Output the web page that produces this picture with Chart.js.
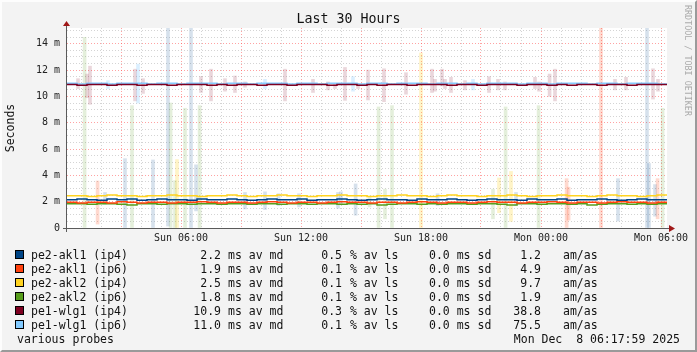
<!DOCTYPE html>
<html lang="en">
<head>
<meta charset="UTF-8">
<title>Last 30 Hours</title>
<script src="https://cdn.jsdelivr.net/npm/chart.js"></script>
<style>
  body { margin: 0; background: #f3f3f3; font-family: 'DejaVu Sans Mono', monospace; color: #111; }
  .frame { position: absolute; left: 0; top: 0; width: 697px; height: 352px; box-sizing: border-box;
           border: 2px solid; border-color: #fdfdfd #9a9a9a #9a9a9a #fdfdfd; background: #f3f3f3; }
  #chart { position: absolute; left: 0; top: 0; }
  .title { position: absolute; left: 0; top: 11px; width: 697px; text-align: center; font-size: 13.3px; line-height: 16px; }
  .stamp { position: absolute; left: 683px; top: 5px; writing-mode: vertical-rl; font-size: 8.4px; color: #aaa; white-space: pre; }
  .row { position: absolute; left: 0; width: 697px; height: 14px; font-size: 11.5px; line-height: 14px; white-space: pre; }
  .row span { position: absolute; top: 0; }
  .row .sw { top: 2px; width: 9px; height: 9px; box-sizing: border-box; border: 1px solid #000; }
</style>
</head>
<body>
<div class="frame"></div>
<canvas id="chart" width="697" height="352"></canvas>
<div class="title">Last 30 Hours</div>
<div class="stamp">RRDTOOL / TOBI OETIKER</div>
<div id="legend"></div>

<script>
// hours since Sun 00:00 (graph runs Sun 00:18 .. Mon 06:18)
var times = [0.3,0.8,1.3,1.8,2.3,2.8,3.3,3.8,4.3,4.8,
             5.3,5.8,6.3,6.8,7.3,7.8,8.3,8.8,9.3,9.8,
             10.3,10.8,11.3,11.8,12.3,12.8,13.3,13.8,14.3,14.8,
             15.3,15.8,16.3,16.8,17.3,17.8,18.3,18.8,19.3,19.8,
             20.3,20.8,21.3,21.8,22.3,22.8,23.3,23.8,24.3,24.8,
             25.3,25.8,26.3,26.8,27.3,27.8,28.3,28.8,29.3,29.8,30.3];

var tickHours = [6, 12, 18, 24, 30];
var tickLabels = ['Sun 06:00', 'Sun 12:00', 'Sun 18:00', 'Mon 00:00', 'Mon 06:00'];

var names = ['pe2-akl1 (ip4)', 'pe2-akl1 (ip6)', 'pe2-akl2 (ip4)', 'pe2-akl2 (ip6)', 'pe1-wlg1 (ip4)', 'pe1-wlg1 (ip6)'];
var colors = ['#004586', '#ff420e', '#ffd320', '#579d1c', '#7e0021', '#83caff'];
var smokeColors = ['rgba(0,69,134,0.16)', 'rgba(255,66,14,0.2)', 'rgba(255,211,32,0.25)',
                   'rgba(87,157,28,0.16)', 'rgba(126,0,33,0.16)', 'rgba(131,202,255,0.3)'];
var medians = [2.2, 1.9, 2.5, 1.8, 10.9, 11.0];
var losses = [0.5, 0.1, 0.1, 0.1, 0.3, 0.1];
var sds = [0.0, 0.0, 0.0, 0.0, 0.0, 0.0];
var amas = [1.2, 4.9, 9.7, 1.9, 38.8, 75.5];

// median rtt in ms
var akl1v4 = [2.15,2.2,2.15,2.1,2.2,2.15,2.2,2.1,2.15,2.2,
              2.15,2.15,2.1,2.2,2.15,2.15,2.2,2.15,2.1,2.15,
              2.2,2.15,2.15,2.2,2.1,2.15,2.15,2.2,2.15,2.1,
              2.15,2.2,2.15,2.15,2.1,2.2,2.15,2.15,2.2,2.15,
              2.1,2.15,2.2,2.15,2.15,2.1,2.2,2.15,2.15,2.2,
              2.1,2.15,2.15,2.2,2.15,2.1,2.15,2.2,2.15,2.15,2.2];
var akl1v6 = [1.95,1.9,1.95,1.95,1.9,2.0,1.95,1.9,1.95,1.95,
              1.9,1.95,1.95,2.0,1.95,1.9,1.95,1.95,1.9,1.95,
              2.0,1.95,1.9,1.95,1.95,1.9,1.95,2.0,1.95,1.95,
              1.9,1.95,1.95,1.9,1.95,2.0,1.95,1.9,1.95,1.95,
              1.9,1.95,2.0,1.95,1.95,1.9,1.95,1.95,2.0,1.95,
              1.9,1.95,1.95,1.9,1.95,2.0,1.95,1.95,1.9,1.95,1.95];
var akl2v4 = [2.45,2.45,2.4,2.45,2.5,2.45,2.45,2.4,2.45,2.45,
              2.5,2.45,2.45,2.4,2.45,2.45,2.5,2.45,2.4,2.45,
              2.45,2.5,2.45,2.45,2.4,2.45,2.45,2.5,2.45,2.45,
              2.4,2.45,2.45,2.5,2.45,2.45,2.4,2.45,2.5,2.45,
              2.45,2.4,2.45,2.45,2.5,2.45,2.4,2.45,2.45,2.5,
              2.45,2.45,2.4,2.45,2.5,2.45,2.45,2.4,2.45,2.5,2.45];
var akl2v6 = [1.85,1.85,1.8,1.85,1.85,1.8,1.75,1.85,1.85,1.8,
              1.85,1.85,1.8,1.85,1.85,1.8,1.85,1.85,1.8,1.85,
              1.85,1.8,1.85,1.85,1.8,1.85,1.85,1.8,1.85,1.8,
              1.85,1.75,1.8,1.85,1.85,1.8,1.85,1.8,1.85,1.85,
              1.8,1.85,1.85,1.8,1.75,1.85,1.85,1.8,1.85,1.85,
              1.8,1.85,1.75,1.8,1.85,1.85,1.8,1.85,1.8,1.85,1.85];
var wlg1v4 = [10.9,10.85,10.9,10.9,10.85,10.9,10.9,10.85,10.9,10.9,
              10.85,10.9,10.9,10.9,10.85,10.9,10.85,10.9,10.9,10.85,
              10.9,10.9,10.85,10.9,10.9,10.9,10.85,10.9,10.9,10.85,
              10.9,10.85,10.9,10.9,10.85,10.9,10.9,10.9,10.85,10.9,
              10.9,10.85,10.9,10.9,10.9,10.85,10.9,10.9,10.85,10.9,
              10.85,10.9,10.9,10.85,10.9,10.9,10.85,10.9,10.9,10.9,10.9];
var wlg1v6 = [11.0,10.95,11.0,11.0,10.95,11.0,11.0,11.0,10.95,11.0,
              11.0,10.95,11.0,11.0,11.0,10.95,11.0,11.0,10.95,11.0,
              11.0,11.0,10.95,11.0,11.0,10.95,11.0,11.0,11.0,10.95,
              11.0,11.0,10.95,11.0,11.0,11.0,10.95,11.0,11.0,10.95,
              11.0,10.95,11.0,11.0,11.0,10.95,11.0,11.0,10.95,11.0,
              11.0,11.0,10.95,11.0,11.0,10.95,11.0,11.0,11.0,10.95,11.0];

// smoke: [hour, low ms, high ms]
var smokeAkl1v4 = [[2.2,1.8,2.7],[3.2,0,5.27],[4.6,0,5.17],[5.35,0.15,15.2],[6.5,0,15.2],[6.75,1.3,4.8],
                   [9.2,1.45,2.7],[10.2,1.4,2.75],[10.88,1.7,2.6],[11.9,1.6,2.6],[13.85,1.5,2.7],[14.0,1.8,2.75],
                   [14.73,0.97,3.35],[18.83,1.7,2.6],[22.75,1.7,2.7],[27.85,0.53,3.75],[29.3,0,15.2],
                   [29.4,0,4.9],[29.7,0.9,3.3]];
var smokeAkl1v6 = [[1.83,0.3,3.57],[25.28,0,3.75],[25.38,0.6,3.1],[27.0,0,15.2],[29.83,0.7,3.75]];
var smokeAkl2v4 = [[5.8,0,5.2],[18.0,0,13.3],[21.9,1.16,3.8],[22.5,0.5,4.3]];
var smokeAkl2v6 = [[1.18,0,14.5],[3.55,0,9.3],[5.48,0,9.5],[5.7,0,3.6],[6.2,0,9.1],[6.93,0,9.3],
                   [15.43,1.6,2.4],[15.88,0,9.2],[16.2,0.7,2.95],[16.55,0,9.3],[21.6,0.7,2.95],
                   [22.23,0,9.2],[23.88,0,9.3],[30.08,0,9.1]];
var smokeWlg1v4 = [[0.85,10.6,11.35],[1.3,9.9,11.7],[1.45,9.4,12.3],[3.7,9.66,12.07],[4.1,10.23,11.35],
                   [7.0,10.3,11.5],[7.5,9.66,12.07],[8.2,10.4,11.35],[8.7,10.3,11.55],[9.2,10.7,11.1],
                   [11.2,9.66,12.07],[12.6,10.3,11.3],[13.35,10.5,11.1],[13.7,10.6,11.0],[14.2,9.7,12.2],
                   [14.85,10.6,11.0],[15.35,9.73,12.0],[16.15,9.6,12.1],[17.25,10.17,11.8],[18.55,10.3,12.07],
                   [18.7,10.4,11.3],[19.05,10.8,12.07],[19.2,10.6,11.3],[19.5,10.3,11.45],[20.2,10.5,11.2],
                   [21.4,10.3,11.5],[21.85,10.5,11.3],[22.2,10.5,11.1],[23.7,10.6,11.45],[23.9,10.4,11.1],
                   [24.43,10.0,11.7],[24.7,9.66,12.07],[27.7,10.5,11.3],[28.25,10.5,11.45],[29.6,9.8,12.1],
                   [29.85,10.4,11.3]];
var smokeWlg1v6 = [[2.35,10.6,11.2],[3.85,9.5,12.45],[10.2,10.6,11.3],[14.6,10.4,11.5],[20.6,10.5,11.3]];

var series = [akl1v4, akl1v6, akl2v4, akl2v6, wlg1v4, wlg1v6];
var smoke = [smokeAkl1v4, smokeAkl1v6, smokeAkl2v4, smokeAkl2v6, smokeWlg1v4, smokeWlg1v6];

var hourTicks = [];
for (var h = 1; h <= 30; h++) hourTicks.push(h);
var msTicks = [];
for (var m = 0; m <= 30; m++) msTicks.push(m / 2);

var datasets = [];
series.forEach(function (vals, i) {
  datasets.push({
    type: 'line',
    label: names[i],
    data: times.map(function (t, k) { return {x: t, y: vals[k]}; }),
    borderColor: colors[i],
    borderWidth: 1.5,
    pointRadius: 0,
    stepped: true,
    order: 0
  });
});
smoke.forEach(function (list, i) {
  datasets.push({
    type: 'bar',
    label: names[i] + ' smoke',
    data: list.map(function (s) { return {x: s[0], y: [s[1], s[2]]}; }),
    backgroundColor: smokeColors[i],
    borderWidth: 0,
    barThickness: 3,
    grouped: false,
    order: 1
  });
});

var frame = {
  id: 'frame',
  beforeDraw: function (chart) {
    var ctx = chart.ctx, a = chart.chartArea;
    ctx.save();
    ctx.fillStyle = '#fff';
    ctx.fillRect(a.left, a.top, a.right - a.left, a.bottom - a.top);
    ctx.restore();
  },
  afterDraw: function (chart) {
    var ctx = chart.ctx, a = chart.chartArea;
    var x0 = a.left - 0.5, y0 = a.bottom + 0.5;
    ctx.save();
    ctx.strokeStyle = '#5a5a5a';
    ctx.lineWidth = 1;
    ctx.beginPath();
    ctx.moveTo(x0, a.bottom + 4); ctx.lineTo(x0, a.top - 2);
    ctx.moveTo(a.left - 4, y0); ctx.lineTo(a.right + 2, y0);
    ctx.stroke();
    ctx.fillStyle = '#a01818';
    ctx.beginPath();
    ctx.moveTo(x0 - 3.5, a.top - 2); ctx.lineTo(x0 + 3.5, a.top - 2); ctx.lineTo(x0, a.top - 7);
    ctx.closePath(); ctx.fill();
    ctx.beginPath();
    ctx.moveTo(a.right + 2, y0 - 3.5); ctx.lineTo(a.right + 2, y0 + 3.5); ctx.lineTo(a.right + 8, y0);
    ctx.closePath(); ctx.fill();
    ctx.restore();
  }
};

Chart.defaults.font.family = "'DejaVu Sans Mono', monospace";
Chart.defaults.color = '#222';

new Chart(document.getElementById('chart'), {
  type: 'line',
  data: { datasets: datasets },
  options: {
    responsive: false,
    animation: false,
    events: [],
    layout: { padding: { top: 28, right: 30, bottom: 104, left: 0 } },
    plugins: { legend: { display: false }, tooltip: { enabled: false } },
    scales: {
      x: {
        type: 'linear',
        min: 0.3,
        max: 30.3,
        offset: false,
        afterBuildTicks: function (scale) { scale.ticks = hourTicks.map(function (v) { return {value: v}; }); },
        afterFit: function (scale) { scale.height = 20; },
        grid: {
          offset: false,
          drawTicks: false,
          lineWidth: 1,
          color: function (c) { return c.tick && c.tick.value % 3 === 0 ? 'rgba(255,70,70,0.5)' : 'rgba(160,160,160,0.45)'; }
        },
        border: { display: false, dash: [1, 2] },
        ticks: {
          autoSkip: false,
          maxRotation: 0,
          padding: 4,
          font: { size: 10 },
          callback: function (v) {
            var i = tickHours.indexOf(v);
            return i >= 0 ? tickLabels[i] : '';
          }
        }
      },
      y: {
        min: 0,
        max: 15.2,
        afterBuildTicks: function (scale) { scale.ticks = msTicks.map(function (v) { return {value: v}; }); },
        afterFit: function (scale) { scale.width = 67; },
        grid: {
          drawTicks: false,
          lineWidth: 1,
          color: function (c) { return c.tick && c.tick.value % 2 === 0 ? 'rgba(255,70,70,0.5)' : 'rgba(160,160,160,0.45)'; }
        },
        border: { display: false, dash: [1, 2] },
        ticks: {
          autoSkip: false,
          padding: 7,
          font: { size: 10 },
          callback: function (v) {
            if (v % 2 !== 0) return '';
            return v === 0 ? '0' : v + ' m';
          }
        },
        title: { display: true, text: 'Seconds', font: { size: 11.5 }, padding: { top: 4, bottom: 0 }, color: '#111' }
      }
    }
  },
  plugins: [frame]
});

// legend rows, laid out like the rrdtool GPRINT columns
var legend = document.getElementById('legend');
function span(text, style) {
  var s = document.createElement('span');
  s.textContent = text;
  s.setAttribute('style', style);
  return s;
}
names.forEach(function (name, i) {
  var row = document.createElement('div');
  row.className = 'row';
  row.style.top = (248 + i * 14) + 'px';
  var sw = span('', 'left:15px;background:' + colors[i]);
  sw.className = 'sw';
  row.appendChild(sw);
  row.appendChild(span(name, 'left:31px'));
  row.appendChild(span(medians[i].toFixed(1), 'right:476px'));
  row.appendChild(span('ms av md', 'left:228px'));
  row.appendChild(span(losses[i].toFixed(1), 'right:355px'));
  row.appendChild(span('% av ls', 'left:350px'));
  row.appendChild(span(sds[i].toFixed(1) + ' ms sd', 'left:429px'));
  row.appendChild(span(amas[i].toFixed(1), 'right:156px'));
  row.appendChild(span('am/as', 'left:563px'));
  legend.appendChild(row);
});
var foot = document.createElement('div');
foot.className = 'row';
foot.style.top = '332px';
foot.appendChild(span('various probes', 'left:17px'));
foot.appendChild(span('Mon Dec  8 06:17:59 2025', 'right:17px'));
legend.appendChild(foot);
</script>
</body>
</html>
